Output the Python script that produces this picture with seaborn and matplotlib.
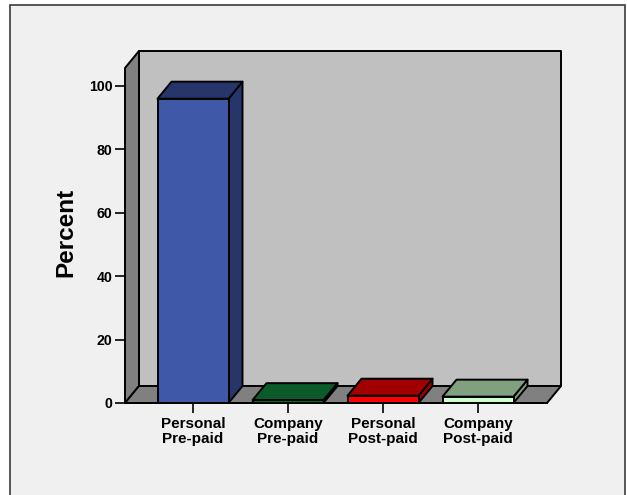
import matplotlib
matplotlib.use("Agg")
import matplotlib.pyplot as plt
from matplotlib.patches import Polygon, Rectangle
import pandas as pd
import seaborn as sns

categories = ["Personal\nPre-paid", "Company\nPre-paid", "Personal\nPost-paid", "Company\nPost-paid"]
percent = [96.0, 0.9, 2.3, 2.0]
y_ticks = [0, 20, 40, 60, 80, 100]
front_colors = ["#3F58A8", "#0E6B30", "#FF0000", "#CCFFCC"]
shade_colors = ["#26366B", "#0B5A2A", "#A00000", "#80A080"]

W, H = 627, 495
sns.set_theme(style="white")
plt.rcParams["font.family"] = ["Liberation Sans", "DejaVu Sans"]
fig = plt.figure(figsize=(W / 100, H / 100), dpi=100, facecolor="white")

# Panel behind the plot, running off the bottom edge of the figure
fig.add_artist(Rectangle((10 / W, -0.02), 615 / W, 1.02 - 5 / H, transform=fig.transFigure,
                         facecolor="#F0F0F0", edgecolor="#3A3A3A", linewidth=1.2, zorder=-1))

# Front plane of the 3D box in pixel terms: x 125-547, y 403 (zero) up to 68
ax = fig.add_axes([125 / W, 1 - 403 / H, 422 / W, 335 / H])
ax.patch.set_visible(False)

px_per_cat = 95.0
px_per_unit = 3.17
bar_width = 71 / px_per_cat
dx = 14 / px_per_cat
dy = 17 / px_per_unit
x0, x1 = (125 - 193) / px_per_cat, (547 - 193) / px_per_cat
y1 = 335 / px_per_unit

data = pd.DataFrame({"category": categories, "percent": percent})
sns.barplot(data=data, x="category", y="percent", hue="category", palette=front_colors,
            order=categories, hue_order=categories, width=bar_width, dodge=False,
            legend=False, edgecolor="black", linewidth=1.4, saturation=1, ax=ax, zorder=5)


def face(points, color, z):
    ax.add_patch(Polygon(points, closed=True, facecolor=color, edgecolor="black",
                         linewidth=1.4, clip_on=False, zorder=z, joinstyle="round"))


# Box walls and floor
face([(x0 + dx, dy), (x1 + dx, dy), (x1 + dx, y1 + dy), (x0 + dx, y1 + dy)], "#C0C0C0", 1)
face([(x0, 0), (x0 + dx, dy), (x0 + dx, y1 + dy), (x0, y1)], "#808080", 2)
face([(x0, 0), (x1, 0), (x1 + dx, dy), (x0 + dx, dy)], "#808080", 2)

# Top and side faces of each bar
for i, (v, c) in enumerate(zip(percent, shade_colors)):
    l, r = i - bar_width / 2, i + bar_width / 2
    face([(r, 0), (r + dx, dy), (r + dx, v + dy), (r, v)], c, 3)
    face([(l, v), (r, v), (r + dx, v + dy), (l + dx, v + dy)], c, 4)

ax.set_xlim(x0, x1)
ax.set_ylim(0, y1)
ax.set_yticks(y_ticks)
ax.set_xlabel("")
ax.set_ylabel("Percent", fontsize=17.5, fontweight="bold", color="black")
ax.yaxis.set_label_coords(-48 / 422, 171 / 335)
ax.tick_params(axis="y", length=7.5, width=1.2, color="black", left=True, pad=1.5)
ax.tick_params(axis="x", length=7, width=1.2, color="black", bottom=True, pad=3)
for label in ax.get_yticklabels():
    label.set_fontsize(10.2)
    label.set_fontweight("bold")
    label.set_color("black")
for label in ax.get_xticklabels():
    label.set_fontsize(11)
    label.set_fontweight("bold")
    label.set_color("black")
    label.set_linespacing(1.08)
for side in ("top", "right", "left"):
    ax.spines[side].set_visible(False)
ax.spines["bottom"].set_color("black")
ax.spines["bottom"].set_linewidth(1.4)
ax.spines["bottom"].set_zorder(6)

fig.savefig("out.png", dpi=100, facecolor="white")
